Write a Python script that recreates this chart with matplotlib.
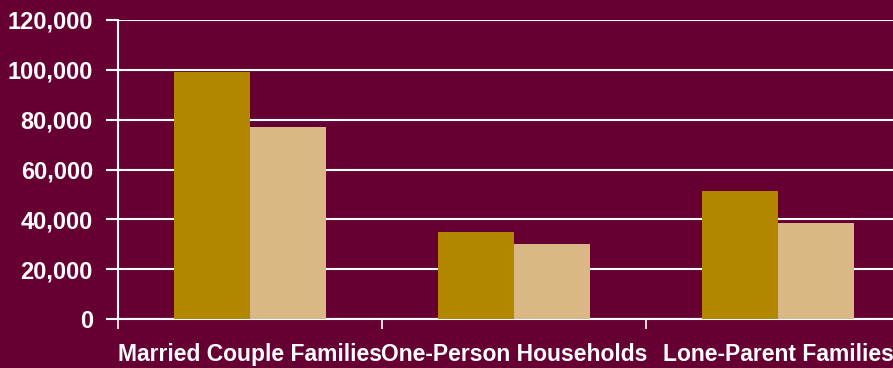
import matplotlib
matplotlib.use("Agg")
from matplotlib import pyplot as plt
import numpy as np

categories = ["Married Couple Families", "One-Person Households", "Lone-Parent Families"]
series1 = [99300, 35000, 51200]
series2 = [77000, 30200, 38500]

bg = "#660033"
plt.rcParams['font.family'] = ['Liberation Sans', 'DejaVu Sans']

fig = plt.figure(figsize=(8.93, 3.68), dpi=100, facecolor=bg)
ax = fig.add_axes([118 / 893, 49 / 368, 792 / 893, 299 / 368])
ax.set_facecolor(bg)

x = np.arange(len(categories)) + 0.5
w = 0.288
ax.bar(x - w / 2, series1, w, color="#B38600", zorder=3)
ax.bar(x + w / 2, series2, w, color="#D9B886", zorder=3)

ax.set_xlim(0, 3)
ax.set_ylim(0, 120000)
ax.set_yticks(np.arange(0, 120001, 20000))
ax.set_yticklabels(["{:,}".format(v) for v in range(0, 120001, 20000)])
ax.yaxis.grid(True, color="white", linewidth=1.5, zorder=0)

ax.set_xticks([0, 1, 2, 3])
ax.set_xticklabels([])
ax.set_xticks(x, minor=True)
ax.set_xticklabels(categories, minor=True, fontweight="bold")
ax.tick_params(axis="x", which="minor", length=0, pad=17, labelsize=16.5, labelcolor="white")
ax.tick_params(axis="x", which="major", length=7, width=1.2, color="white", direction="out")
ax.tick_params(axis="y", length=9, width=1.5, color="white", pad=9, labelsize=17, labelcolor="white")
for t in ax.get_yticklabels():
    t.set_fontweight("bold")

for s in ["top", "right"]:
    ax.spines[s].set_visible(False)
ax.spines["left"].set_color("white")
ax.spines["left"].set_linewidth(1.5)
ax.spines["bottom"].set_color("white")
ax.spines["bottom"].set_linewidth(1.5)

fig.savefig("out.png", dpi=100, facecolor=bg)
